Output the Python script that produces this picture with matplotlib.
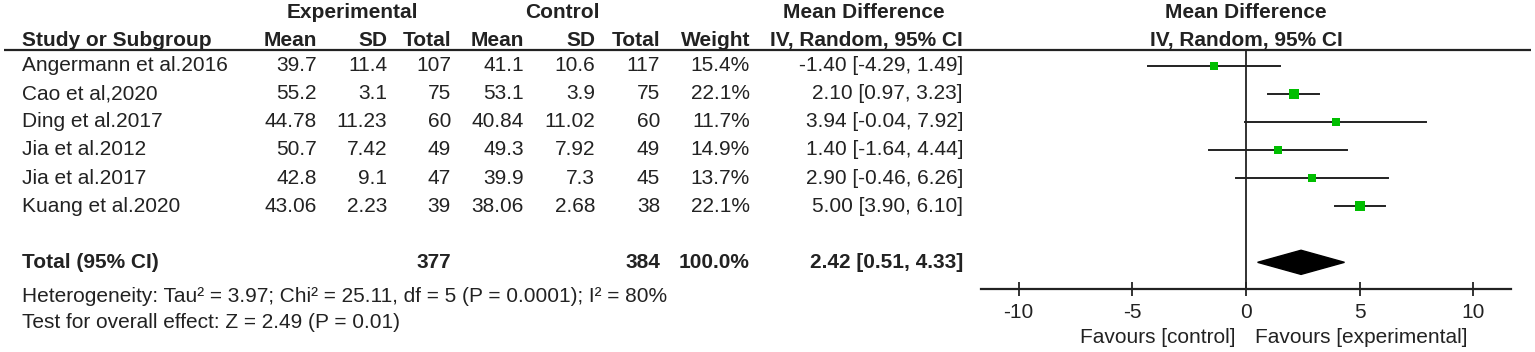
import matplotlib
matplotlib.use("Agg")
import numpy as np
import matplotlib.pyplot as plt
from matplotlib.patches import Polygon

plt.rcParams['font.family'] = ['Liberation Sans', 'DejaVu Sans']

# data
studies = ["Angermann et al.2016", "Cao et al,2020", "Ding et al.2017",
           "Jia et al.2012", "Jia et al.2017", "Kuang et al.2020"]
exp_mean = ["39.7", "55.2", "44.78", "50.7", "42.8", "43.06"]
exp_sd = ["11.4", "3.1", "11.23", "7.42", "9.1", "2.23"]
exp_n = [107, 75, 60, 49, 47, 39]
ctl_mean = ["41.1", "53.1", "40.84", "49.3", "39.9", "38.06"]
ctl_sd = ["10.6", "3.9", "11.02", "7.92", "7.3", "2.68"]
ctl_n = [117, 75, 60, 49, 45, 38]
weight = [15.4, 22.1, 11.7, 14.9, 13.7, 22.1]
md = [-1.40, 2.10, 3.94, 1.40, 2.90, 5.00]
ci_lo = [-4.29, 0.97, -0.04, -1.64, -0.46, 3.90]
ci_hi = [1.49, 3.23, 7.92, 4.44, 6.26, 6.10]
total_md, total_lo, total_hi = 2.42, 0.51, 4.33
total_exp, total_ctl = 377, 384
total_weight = 100.0
xticks = [-10, -5, 0, 5, 10]

TXT = "#222222"
GREEN = "#00BE00"
FS = 15

W, H = 1535, 352
fig = plt.figure(figsize=(W / 100, H / 100), dpi=100)

# forest axes spans pixel box x 981..1511, y 50..289
top_px, bot_px = 50, 289
ymax, ymin = 7.95, -0.56
fax = fig.add_axes([981 / W, 1 - bot_px / H, (1511 - 981) / W, (bot_px - top_px) / H])
tab = fig.add_axes([0, 1 - bot_px / H, 1, (bot_px - top_px) / H])
tab.set_xlim(0, W)
for a in (fax, tab):
    a.set_ylim(ymax, ymin)
tab.axis("off")
tab.patch.set_alpha(0)

rows = np.arange(len(studies))
total_row = 7

# column right edges (px)
cols_r = [317, 387, 451, 524, 595, 660, 750]
ci_r = 963

# header
hdr = dict(fontsize=FS, fontweight="bold", color=TXT, va="center")
tab.text(352, -1.88, "Experimental", ha="center", **hdr)
tab.text(562, -1.88, "Control", ha="center", **hdr)
tab.text(864, -1.88, "Mean Difference", ha="center", **hdr)
tab.text(1246, -1.88, "Mean Difference", ha="center", **hdr)

names = ["Mean", "SD", "Total", "Mean", "SD", "Total", "Weight"]
tab.text(22, -0.9, "Study or Subgroup", ha="left", **hdr)
for x, n in zip(cols_r, names):
    tab.text(x, -0.9, n, ha="right", **hdr)
tab.text(ci_r, -0.9, "IV, Random, 95% CI", ha="right", **hdr)
tab.text(1246, -0.9, "IV, Random, 95% CI", ha="center", **hdr)
tab.plot([4, 1531], [ymin, ymin], color=TXT, lw=1.6, solid_capstyle="butt", clip_on=False)

body = dict(fontsize=FS, color=TXT, va="center")
for i in rows:
    y = rows[i]
    tab.text(22, y, studies[i], ha="left", **body)
    vals = [exp_mean[i], exp_sd[i], str(exp_n[i]), ctl_mean[i], ctl_sd[i],
            str(ctl_n[i]), f"{weight[i]:.1f}%"]
    for x, v in zip(cols_r, vals):
        tab.text(x, y, v, ha="right", **body)
    tab.text(ci_r, y, f"{md[i]:.2f} [{ci_lo[i]:.2f}, {ci_hi[i]:.2f}]", ha="right", **body)

bold = dict(fontsize=FS, color=TXT, va="center", fontweight="bold")
tab.text(22, total_row, "Total (95% CI)", ha="left", **bold)
tab.text(cols_r[2], total_row, str(total_exp), ha="right", **bold)
tab.text(cols_r[5], total_row, str(total_ctl), ha="right", **bold)
tab.text(cols_r[6], total_row, f"{total_weight:.1f}%", ha="right", **bold)
tab.text(ci_r, total_row, f"{total_md:.2f} [{total_lo:.2f}, {total_hi:.2f}]", ha="right", **bold)

tab.text(22, 8.22, "Heterogeneity: Tau\u00b2 = 3.97; Chi\u00b2 = 25.11, df = 5 (P = 0.0001); I\u00b2 = 80%",
         ha="left", **body)
tab.text(22, 9.15, "Test for overall effect: Z = 2.49 (P = 0.01)", ha="left", **body)

tab.text(1235, 9.66, "Favours [control]", ha="right", **body)
tab.text(1255, 9.66, "Favours [experimental]", ha="left", **body)

# forest plot
fax.set_xlim(-11.65, 11.65)
fax.axvline(0, color=TXT, lw=1.3)
for i in rows:
    fax.plot([ci_lo[i], ci_hi[i]], [rows[i], rows[i]], color=TXT, lw=1.4)
    fax.plot(md[i], rows[i], marker="s", color=GREEN, ms=1.55 * np.sqrt(weight[i]),
             markeredgewidth=0)
h = 0.43
fax.add_patch(Polygon([(total_lo, total_row), (total_md, total_row - h),
                       (total_hi, total_row), (total_md, total_row + h)],
                      closed=True, color="black"))
for s in ("top", "left", "right"):
    fax.spines[s].set_visible(False)
fax.spines["bottom"].set_linewidth(1.6)
fax.spines["bottom"].set_color(TXT)
fax.set_yticks([])
fax.set_xticks(xticks)
fax.set_xticklabels([str(t) for t in xticks])
fax.tick_params(axis="x", direction="inout", length=9.5, width=1.3, color=TXT,
                labelsize=FS, labelcolor=TXT, pad=5.5)
fax.patch.set_alpha(0)

fig.savefig("out.png", dpi=100)
